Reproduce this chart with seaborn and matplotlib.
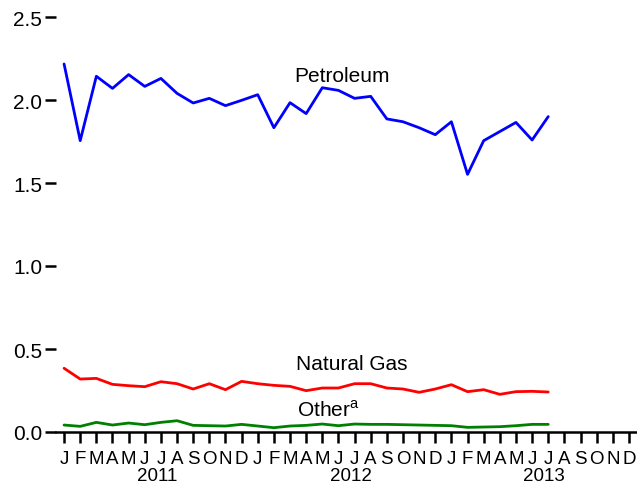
import matplotlib
matplotlib.use("Agg")
import matplotlib.pyplot as plt
import matplotlib.transforms as mtransforms
import seaborn as sns
import pandas as pd
import numpy as np

months = ["J", "F", "M", "A", "M", "J", "J", "A", "S", "O", "N", "D"] * 3
years = ["2011", "2012", "2013"]

petroleum = [2.217, 1.755, 2.143, 2.070, 2.153, 2.082, 2.130, 2.040, 1.982, 2.010,
             1.966, 1.998, 2.032, 1.833, 1.984, 1.918, 2.074, 2.058, 2.010, 2.022,
             1.886, 1.869, 1.833, 1.791, 1.869, 1.552, 1.755, 1.810, 1.865, 1.759, 1.900]
natural_gas = [0.384, 0.319, 0.323, 0.287, 0.279, 0.273, 0.303, 0.291, 0.259, 0.291,
               0.255, 0.305, 0.291, 0.281, 0.275, 0.249, 0.265, 0.265, 0.291, 0.291,
               0.265, 0.259, 0.239, 0.259, 0.285, 0.243, 0.255, 0.227, 0.243, 0.245, 0.241]
other = [0.042, 0.034, 0.058, 0.042, 0.054, 0.044, 0.058, 0.068, 0.040, 0.038,
         0.036, 0.046, 0.036, 0.026, 0.036, 0.040, 0.048, 0.038, 0.048, 0.046,
         0.046, 0.044, 0.042, 0.040, 0.038, 0.028, 0.030, 0.032, 0.038, 0.046, 0.046]

series_names = ["Petroleum", "Natural Gas", "Other"]
colors = {"Petroleum": "#0000FF", "Natural Gas": "#FF0000", "Other": "#008000"}

n = len(petroleum)
df = pd.DataFrame({
    "month": list(range(n)) * 3,
    "value": petroleum + natural_gas + other,
    "series": ["Petroleum"] * n + ["Natural Gas"] * n + ["Other"] * n,
})

sns.set_style("white")
plt.rcParams["font.family"] = ["Liberation Sans", "DejaVu Sans"]
plt.rcParams["mathtext.fontset"] = "custom"
plt.rcParams["mathtext.rm"] = "Liberation Sans"

fig = plt.figure(figsize=(6.37, 4.85), dpi=100)
ax = fig.add_axes([56 / 637, 1 - 433 / 485, 1 - 56 / 637, (433 - 18) / 485])

sns.lineplot(data=df, x="month", y="value", hue="series", palette=colors,
             hue_order=series_names, linewidth=2.0, ax=ax, legend=False)

ax.set_xlim(-0.5, 35.5)
ax.set_ylim(0, 2.5)
ax.set_xlabel("")
ax.set_ylabel("")

for s in ["top", "right", "left"]:
    ax.spines[s].set_visible(False)
ax.spines["bottom"].set_color("black")
ax.spines["bottom"].set_linewidth(1.8)

ax.set_yticks([0.0, 0.5, 1.0, 1.5, 2.0, 2.5])
ax.set_yticklabels(["0.0", "0.5", "1.0", "1.5", "2.0", "2.5"])
ax.tick_params(axis="y", left=True, direction="out", length=8, width=1.8,
               labelsize=15, pad=2, colors="black")
ax.set_xticks(range(36))
ax.set_xticklabels(months)
ax.tick_params(axis="x", bottom=True, direction="out", length=8, width=1.8,
               labelsize=13.5, pad=5, colors="black")

trans = mtransforms.blended_transform_factory(ax.transData, ax.transAxes)
for i, y in enumerate(years):
    ax.text(5.75 + 12 * i, -0.104, y, transform=trans, ha="center", va="center",
            fontsize=13.5, color="black")

ax.text(17.2, 2.116, "Petroleum", ha="center", va="baseline", fontsize=15, color="black")
ax.text(17.85, 0.380, "Natural Gas", ha="center", va="baseline", fontsize=15, color="black")
ax.text(14.45, 0.098, "Other$^{\\mathregular{a}}$", ha="left", va="baseline", fontsize=15,
        color="black")

fig.savefig("out.png", dpi=100)
